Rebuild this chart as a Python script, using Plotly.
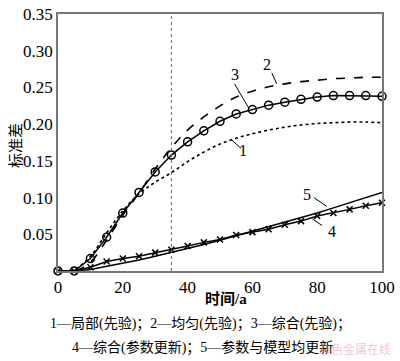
import plotly.graph_objects as go

years = [0, 5, 10, 15, 20, 25, 30, 35, 40, 45, 50, 55, 60, 65, 70, 75, 80, 85, 90, 95, 100]
s1_local = [0, 0.002, 0.020, 0.052, 0.082, 0.105, 0.121, 0.134, 0.149, 0.162, 0.173, 0.181, 0.187, 0.192, 0.196, 0.199, 0.201, 0.202, 0.203, 0.203, 0.202]
s2_uniform = [0, 0, 0.012, 0.042, 0.076, 0.106, 0.139, 0.168, 0.192, 0.210, 0.225, 0.237, 0.245, 0.251, 0.255, 0.258, 0.260, 0.262, 0.263, 0.264, 0.264]
s3_comb = [0, 0, 0.017, 0.046, 0.079, 0.107, 0.135, 0.158, 0.176, 0.191, 0.204, 0.214, 0.220, 0.226, 0.230, 0.234, 0.237, 0.239, 0.239, 0.239, 0.238]
s4_param = [0, 0, 0.005, 0.013, 0.017, 0.020, 0.025, 0.029, 0.034, 0.039, 0.043, 0.049, 0.053, 0.057, 0.063, 0.068, 0.075, 0.079, 0.084, 0.089, 0.093]
s5_both = [0, 0, 0.002, 0.006, 0.010, 0.015, 0.020, 0.025, 0.030, 0.036, 0.042, 0.048, 0.054, 0.060, 0.066, 0.073, 0.079, 0.086, 0.093, 0.100, 0.107]

x_ticks = [0, 20, 40, 60, 80, 100]
y_ticks = [0.05, 0.10, 0.15, 0.20, 0.25, 0.30, 0.35]
y_tick_text = ["0.05", "0.10", "0.15", "0.20", "0.25", "0.30", "0.35"]

FONT = "Liberation Serif, Times New Roman, Noto Sans CJK SC, serif"
CJK = "Liberation Serif, Noto Sans CJK SC, serif"

fig = go.Figure()
fig.add_trace(go.Scatter(x=years, y=s1_local, mode="lines", line=dict(color="black", width=1.6, dash="dot"), line_shape="spline"))
fig.add_trace(go.Scatter(x=years, y=s2_uniform, mode="lines", line=dict(color="black", width=1.6, dash="dash"), line_shape="spline"))
fig.add_trace(go.Scatter(x=years, y=s5_both, mode="lines", line=dict(color="black", width=1.5)))
fig.add_trace(go.Scatter(x=years, y=s4_param, mode="lines+markers", line=dict(color="black", width=1.5),
                         marker=dict(symbol="x-thin-open", size=6, color="black", line=dict(width=1.5, color="black")), cliponaxis=False))
fig.add_trace(go.Scatter(x=years, y=s3_comb, mode="lines+markers", line=dict(color="black", width=1.5),
                         marker=dict(symbol="circle-open", size=8, color="black", line=dict(width=1.5, color="black")), cliponaxis=False))

fig.add_shape(type="line", x0=35, x1=35, y0=0, y1=0.35, xref="x", yref="y",
              line=dict(color="#666666", width=1, dash="dot"))

# leader lines and labels
labels = [
    ("1", 57.0, 0.164, 53.5, 0.179, 56.5, 0.167),
    ("2", 64.5, 0.282, 66.0, 0.270, 67.5, 0.255),
    ("3", 54.5, 0.268, 54.5, 0.255, 59.0, 0.221),
    ("4", 84.5, 0.054, 81.5, 0.062, 78.5, 0.071),
    ("5", 77.0, 0.104, 79.0, 0.100, 83.0, 0.088),
]
for t, lx, ly, x0, y0, x1, y1 in labels:
    fig.add_annotation(x=lx, y=ly, text=t, showarrow=False, font=dict(family=FONT, size=16, color="black"))
    fig.add_shape(type="line", x0=x0, y0=y0, x1=x1, y1=y1, xref="x", yref="y", line=dict(color="black", width=1))

def note(x, y, text, size, color="black", xanchor="center", angle=0):
    fig.add_annotation(xref="paper", yref="paper", x=x, y=y, xanchor=xanchor, yanchor="middle", text=text,
                       textangle=angle, showarrow=False, font=dict(family=CJK, size=size, color=color))

note(0.52, -0.11, "<b>时间/a</b>", 15)
note(-0.13, 0.49, "标准差", 15, angle=-90)
note(0.44, -0.207, "1—局部(先验)；2—均匀(先验)；3—综合(先验)；", 14)
note(0.445, -0.297, "4—综合(参数更新)；5—参数与模型均更新", 14)
note(1.035, -0.305, "有色金属在线", 12, color="rgba(225,140,150,0.5)", xanchor="right")

fig.update_xaxes(range=[0, 100], tickvals=x_ticks, showline=True, linecolor="#777777", mirror=True, linewidth=1.5,
                 showgrid=False, zeroline=False, ticks="", ticklabeloverflow="allow",
                 tickfont=dict(family=FONT, size=17, color="black"))
fig.update_yaxes(range=[0, 0.3502], tickvals=y_ticks, ticktext=y_tick_text, showline=True, linecolor="#777777", mirror=True,
                 linewidth=1.5, showgrid=False, zeroline=False, ticks="", ticklabeloverflow="allow",
                 tickfont=dict(family=FONT, size=17, color="black"))

fig.update_layout(width=400, height=361, margin=dict(l=58, r=12, t=5, b=90), showlegend=False,
                  plot_bgcolor="white", paper_bgcolor="white")
fig.write_html("out.html", post_script="document.body.style.margin='0';", config={"displayModeBar": False})
